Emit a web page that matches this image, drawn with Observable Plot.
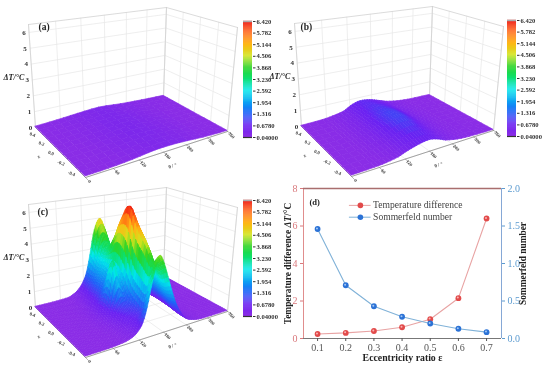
<!DOCTYPE html>
<html><head><meta charset="utf-8">
<script src="https://cdn.jsdelivr.net/npm/d3@7"></script>
<script src="https://cdn.jsdelivr.net/npm/@observablehq/plot@0.6"></script>
<style>
html,body{margin:0;padding:0;background:#fff;}
#fig{position:relative;width:550px;height:374px;overflow:hidden;filter:blur(.4px);}
#fig svg{position:absolute;overflow:visible;background:transparent;}
</style></head><body><div id="fig"></div>
<script>
const serif = "'Liberation Serif', serif";
// ---- 3D panel axes
const dTTicks = [0,1,2,3,4,5,6];
const thetaTicks = [0,60,120,180,240,300,360];
const zTicks = [-0.4,-0.2,0,0.2,0.4];
const barTicks = [0.04,0.678,1.316,1.954,2.592,3.23,3.868,4.506,5.144,5.782,6.42];
const barLabels = ["0.04000","0.6780","1.316","1.954","2.592","3.230","3.868","4.506","5.144","5.782","6.420"];
const colorStops = [0.04,0.678,1.316,1.954,2.592,3.23,3.868,4.506,5.144,5.782,6.42];
const colorRange = ["#8b2de6","#6a22f2","#2060f8","#0aa4f2","#00e6ea","#0ce070","#2cd424","#d4e41e","#ffb414","#ff6414","#ee1414"];
// ---- panel (a) surface
const thetaA = [0,51,105,162,224,289,360];
const zA = [-0.4,-0.2,0,0.2,0.4];
const gridA = [
 [.05,.06,.12,.24,.22,.10,.04],
 [.05,.08,.18,.30,.24,.10,.04],
 [.05,.10,.21,.33,.24,.10,.04],
 [.05,.11,.22,.32,.22,.10,.05],
 [.05,.12,.22,.30,.18,.10,.05]];
// ---- panel (b) surface
const thetaB = [0,51,77,105,123,143,162,182,203,224,256,289,360];
const zB = [-0.4,-0.2,0,0.2,0.4];
const gridB = [
 [.04,.06,.10,.20,.35,.48,.58,.62,.50,.30,.15,.08,.04],
 [.04,.07,.14,.28,.50,.72,.85,.80,.60,.36,.16,.08,.04],
 [.04,.08,.18,.36,.62,.88,1.02,.95,.68,.40,.18,.09,.04],
 [.04,.08,.18,.34,.58,.78,.85,.78,.58,.34,.16,.08,.04],
 [.04,.08,.16,.30,.55,.72,.72,.62,.45,.28,.14,.07,.04]];
// ---- panel (c) surface
const thetaC = [0,33,60,82,92,102,112,121,130,140,150,160,170,180,190,200,210,220,230,240,250,270,290,360];
const zC = [-0.4,-0.3,-0.2,-0.1,0,0.1,0.2,0.3,0.4];
const gridC = [
 [.04,.04,.05,.09,.13,.2,.32,.52,.85,1.6,2.7,3.7,4.3,3.8,3.0,2.2,1.5,1.0,.62,.36,.22,.09,.05,.04],
 [.04,.04,.06,.1,.16,.25,.38,.55,.7,.85,1.2,2.4,3.7,3.4,2.7,2.0,1.4,.9,.6,.36,.22,.09,.05,.04],
 [.04,.04,.07,.13,.22,.35,.55,.75,.85,1.0,1.3,2.6,4.5,4.3,3.5,2.5,1.7,1.1,.7,.42,.25,.09,.05,.04],
 [.04,.05,.08,.18,.32,.55,.85,1.15,1.4,1.3,1.7,3.1,5.2,5.1,4.3,3.2,2.1,1.35,.8,.46,.27,.1,.06,.04],
 [.04,.05,.09,.22,.42,.75,1.4,2.6,3.3,2.2,2.5,4.4,6.42,5.7,4.6,3.4,2.3,1.4,.85,.48,.28,.1,.06,.04],
 [.04,.05,.09,.2,.38,.62,1.0,1.4,1.8,1.9,2.9,4.6,5.5,4.9,4.0,2.9,1.9,1.2,.72,.42,.25,.09,.05,.04],
 [.04,.05,.08,.16,.3,.5,.85,1.3,1.75,2.2,2.8,3.5,4.1,3.8,3.1,2.3,1.6,1.0,.6,.36,.22,.09,.05,.04],
 [.04,.05,.07,.12,.22,.4,.7,1.05,1.5,2.1,2.7,3.2,3.3,3.1,2.6,2.0,1.4,.9,.55,.33,.2,.08,.05,.04],
 [.04,.04,.06,.1,.2,.35,.6,.95,1.5,2.6,3.9,4.7,4.9,4.2,3.1,2.2,1.5,.95,.6,.35,.2,.08,.05,.04]];
// ---- panel (d)
const eccentricity = [0.1,0.2,0.3,0.4,0.5,0.6,0.7];
const tempDiff = [0.24,0.3,0.4,0.6,1.03,2.15,6.4];
const sommerfeld = [1.46,0.71,0.43,0.29,0.2,0.13,0.085];

// camera of the 3D box
const cam = {
  floor:{front:[85,177],right:[227,131],left:[35,127],back:[163,96]},
  top:{front:[78,45],right:[237,27],left:[28,24],back:[166,7]},
  maxH:6.5, ku:.22, kv:.08
};
const warp=(t,k)=>(1+k)*t/(1+k*t);
function bil(c,u,v,i){return (1-v)*((1-u)*c.front[i]+u*c.right[i])+v*((1-u)*c.left[i]+u*c.back[i]);}
function P(theta,z,h){
  const u=warp(theta/360,cam.ku),v=warp((z+.4)/.8,cam.kv),t=h/cam.maxH;
  return [0,1].map(i=>bil(cam.floor,u,v,i)+(bil(cam.top,u,v,i)-bil(cam.floor,u,v,i))*t);
}
const colorOpt={type:"linear",domain:colorStops,range:colorRange};
// smooth drawing of the mesh between the read values (like a Catmull-Rom curve, applied in both directions)
const cr=(a,b,c,d,t)=>b+.5*t*(c-a+t*(2*a-5*b+4*c-d+t*(3*(b-c)+d-a)));
function meshAt(g,ii,jj){
  const I=Math.min(Math.floor(ii),g[0].length-2),J=Math.min(Math.floor(jj),g.length-2),s=ii-I,t=jj-J;
  const at=(r,c)=>g[Math.max(0,Math.min(g.length-1,r))][Math.max(0,Math.min(g[0].length-1,c))];
  const row=r=>cr(at(r,I-1),at(r,I),at(r,I+1),at(r,I+2),s);
  const val=cr(row(J-1),row(J),row(J+1),row(J+2),t);
  return Math.max(.04,Math.min(6.42,val));
}
function cells(th,zs,g,nu,nv){
  const out=[];let id=0;
  const TH=x=>{const I=Math.min(Math.floor(x),th.length-2);return th[I]+(th[I+1]-th[I])*(x-I);};
  const ZS=x=>{const J=Math.min(Math.floor(x),zs.length-2);return zs[J]+(zs[J+1]-zs[J])*(x-J);};
  const NI=(th.length-1)*nu,NJ=(zs.length-1)*nv;
  for(let j=NJ-1;j>=0;j--)for(let i=NI-1;i>=0;i--){
    const j0=j/nv,j1=(j+1)/nv;
    const v=[[i,j0],[i,j1],[i+1,j0],[i+1,j1]].reduce((s,[a,b])=>s+meshAt(g,a/nu,b),0)/4;id++;
    for(const k of [i,i+1]){
      const a=P(TH(k/nu),ZS(j0),meshAt(g,k/nu,j0)),b=P(TH(k/nu),ZS(j1),meshAt(g,k/nu,j1));
      out.push({id,v,x1:a[0],y1:a[1],x2:b[0],y2:b[1]});
    }
  }
  return out;
}
function seg(list){const out=[];list.forEach((s,id)=>{for(const p of s){const q=P(...p);out.push({id,x:q[0],y:q[1]});}});return out;}
const H=cam.maxH;
const gridLines=seg([
 ...thetaTicks.flatMap(t=>[[[t,.4,0],[t,.4,H]],[[t,-.4,0],[t,.4,0]]]),
 ...zTicks.flatMap(z=>[[[360,z,0],[360,z,H]],[[0,z,0],[360,z,0]]]),
 ...dTTicks.flatMap(h=>[[[0,.4,h],[360,.4,h]],[[360,.4,h],[360,-.4,h]]])
]);
const boxLines=seg([[[0,.4,0],[0,.4,H]],[[360,.4,0],[360,.4,H]],[[360,-.4,0],[360,-.4,H]],[[0,.4,H],[360,.4,H]],[[360,.4,H],[360,-.4,H]],[[0,.4,0],[360,.4,0]],[[360,.4,0],[360,-.4,0]]]);
const frontLines=seg([[[0,-.4,0],[360,-.4,0]],[[0,-.4,0],[0,.4,0]]]);
const tickMarks=seg([...thetaTicks.map(t=>[[t,-.4,0],[t,-.45,0]])]);
const lab=(arr,f,fmt)=>arr.map(a=>{const q=f(a);return {x:q[0],y:q[1],t:fmt(a)};});
const place=(el,l,t)=>{el.style.left=l+"px";el.style.top=t+"px";document.getElementById("fig").appendChild(el);return el;};

function panel3d(letter,th,zs,g,nu,nv,ldx,ldy){
  const w=275,h=190;
  return Plot.plot({width:w,height:h,margin:0,x:{domain:[0,w],axis:null},y:{domain:[h,0],axis:null},color:colorOpt,
    style:{fontFamily:serif,background:"transparent"},
    marks:[
     Plot.line(gridLines,{x:"x",y:"y",z:"id",stroke:"#e6e6e6",strokeWidth:.7}),
     Plot.line(boxLines,{x:"x",y:"y",z:"id",stroke:"#d2d2d2",strokeWidth:.8}),
     Plot.line(frontLines,{x:"x",y:"y",z:"id",stroke:"#999",strokeWidth:.9}),
     Plot.line(tickMarks,{x:"x",y:"y",z:"id",stroke:"#888",strokeWidth:.6}),
     Plot.area(cells(th,zs,g,nu,nv),{x1:"x1",y1:"y1",x2:"x2",y2:"y2",z:"id",fill:"v",stroke:"v",strokeWidth:.7}),
     Plot.text(lab(dTTicks,d=>P(0,.4,d),String),{x:"x",y:"y",text:"t",dx:-5,fontSize:7,fontWeight:"bold",fill:"#333"}),
     Plot.text(lab(thetaTicks,t=>P(t,-.4,0),String),{x:"x",y:"y",text:"t",dx:4,dy:4,rotate:45,fontSize:4.6,fontWeight:"bold",fill:"#444"}),
     Plot.text(lab(zTicks,z=>{const p=P(0,z,0),f=(z+.4)/.8;return [p[0]-14+11*f,p[1]-4+11*f];},z=>z.toFixed(1)),{x:"x",y:"y",text:"t",rotate:20,fontSize:4.8,fontWeight:"bold",fill:"#444"}),
     Plot.text(lab(["z"],()=>P(0,0,0),String),{x:"x",y:"y",text:"t",dx:-21,dy:5,rotate:-30,fontSize:5,fontWeight:"bold",fill:"#444"}),
     Plot.text(lab(["θ / °"],()=>P(198,-.4,0),String),{x:"x",y:"y",text:"t",dx:2,dy:16,rotate:-18,fontSize:5,fontWeight:"bold",fill:"#444"}),
     Plot.text(lab(["ΔT/°C"],()=>P(0,.4,3),String),{x:"x",y:"y",text:"t",dx:-8,dy:-3,textAnchor:"end",fontSize:8,fontStyle:"italic",fontWeight:"bold",fill:"#222"}),
     Plot.text([letter],{frameAnchor:"top-left",dx:ldx,dy:ldy,fontSize:9.5,fontWeight:"bold",fill:"#222"})
    ]});
}
function colorbar(){
  const w=50,h=140,top=4;
  const steps=d3.range(0,120).map(i=>0.04+(6.42-0.04)*i/120);
  const dv=(6.42-0.04)/120;
  return Plot.plot({width:w,height:h,marginTop:top,marginBottom:h-top-116,marginLeft:0,marginRight:w-9,
    x:{domain:[0,1],axis:null},y:{domain:[0.04,6.42],axis:null},color:colorOpt,
    style:{fontFamily:serif,background:"transparent"},
    marks:[
      Plot.rect(steps,{x1:0,x2:1,y1:d=>d,y2:d=>d+dv*1.2,fill:d=>d}),
      Plot.ruleY([6.42],{stroke:"#aaa",strokeWidth:1.5}),
      Plot.ruleY([0.04],{stroke:"#333",strokeWidth:1.2}),
      Plot.axisY(barTicks,{anchor:"right",label:null,tickSize:2.5,tickPadding:1.5,tickFormat:d=>barLabels[barTicks.indexOf(d)],fontSize:6.6,fontWeight:"bold",fill:"#333",stroke:"#333"})
    ]});
}
function panelD(){
  const k=4;
  const rows=eccentricity.map((e,i)=>({e,t:tempDiff[i],s:sommerfeld[i]*k}));
  const red="#e24a4a",blue="#2b72d6";
  const serifAxis={label:null,tickSize:3,fontSize:10};
  const svg=Plot.plot({width:275,height:190,marginLeft:28,marginRight:49,marginTop:4,marginBottom:36,
    x:{domain:[.05,.753],axis:null},y:{domain:[0,8],axis:null},
    style:{fontFamily:serif,background:"transparent"},
    marks:[
     Plot.ruleX([.05],{stroke:"#e08d8d"}),Plot.ruleX([.753],{stroke:"#86a8d6"}),
     Plot.ruleY([8],{stroke:"#a96e6e",strokeWidth:1.3}),Plot.ruleY([0],{stroke:"#777"}),
     Plot.axisX(eccentricity,{...serifAxis,tickFormat:d=>d.toFixed(1),color:"#555",tickPadding:2}),
     Plot.axisY([0,2,4,6,8],{...serifAxis,color:"#d9787c",tickPadding:3}),
     Plot.axisY([0,.5,1,1.5,2].map(d=>d*k),{...serifAxis,anchor:"right",tickFormat:d=>(d/k).toFixed(1),color:"#5c9bd0",tickPadding:3}),
     Plot.line(rows,{x:"e",y:"t",stroke:"#e8a3a3",strokeWidth:1.1}),
     Plot.line(rows,{x:"e",y:"s",stroke:"#80b2d8",strokeWidth:1.1}),
     Plot.dot(rows,{x:"e",y:"t",r:2.9,fill:red}),Plot.dot(rows,{x:"e",y:"t",r:1,dx:-.6,dy:-.6,fill:"#f8b4b4"}),
     Plot.dot(rows,{x:"e",y:"s",r:2.9,fill:blue}),Plot.dot(rows,{x:"e",y:"s",r:1,dx:-.6,dy:-.6,fill:"#a4c8f4"}),
     Plot.text(["(d)"],{frameAnchor:"top-left",dx:6,dy:10,fontSize:8.5,fontWeight:"bold",fill:"#222",textAnchor:"start"}),
     // legend
     Plot.ruleY([7.1],{x1:.213,x2:.29,stroke:"#e8a3a3"}),
     Plot.ruleY([6.47],{x1:.213,x2:.29,stroke:"#80b2d8"}),
     Plot.dot([[.252,7.1]],{x:d=>d[0],y:d=>d[1],r:2.8,fill:red}),
     Plot.dot([[.252,6.47]],{x:d=>d[0],y:d=>d[1],r:2.8,fill:blue}),
     Plot.text(["Temperature difference"],{x:.297,y:7.1,textAnchor:"start",fontSize:9.6,fill:"#444"}),
     Plot.text(["Sommerfeld number"],{x:.297,y:6.47,textAnchor:"start",fontSize:9.6,fill:"#444"}),
     // titles
     Plot.text(["Eccentricity ratio ε"],{frameAnchor:"bottom",dy:22,fontSize:9.8,fontWeight:"bold",fill:"#222"}),
     Plot.text(["Temperature difference ΔT/°C"],{frameAnchor:"left",dx:-16,rotate:-90,textAnchor:"middle",fontSize:9.4,fontWeight:"bold",fill:"#222"}),
     Plot.text(["Sommerfeld number"],{frameAnchor:"right",dx:21,rotate:-90,textAnchor:"middle",fontSize:9.4,fontWeight:"bold",fill:"#222"})
    ]});
  d3.select(svg).selectAll("text").filter(function(){return this.textContent.includes("ΔT");})
    .html('Temperature difference <tspan font-style="italic">ΔT</tspan>/°C');
  return svg;
}
place(panel3d("(a)",thetaA,zA,gridA,3,3,38,23),0,0);
place(colorbar(),243,17);
place(panel3d("(b)",thetaB,zB,gridB,3,3,34,24),266,-1);
place(colorbar(),507,16);
place(panel3d("(c)",thetaC,zC,gridC,3,4,37,28),0,180);
place(colorbar(),243,196);
place(panelD(),275,184);
</script></body></html>
